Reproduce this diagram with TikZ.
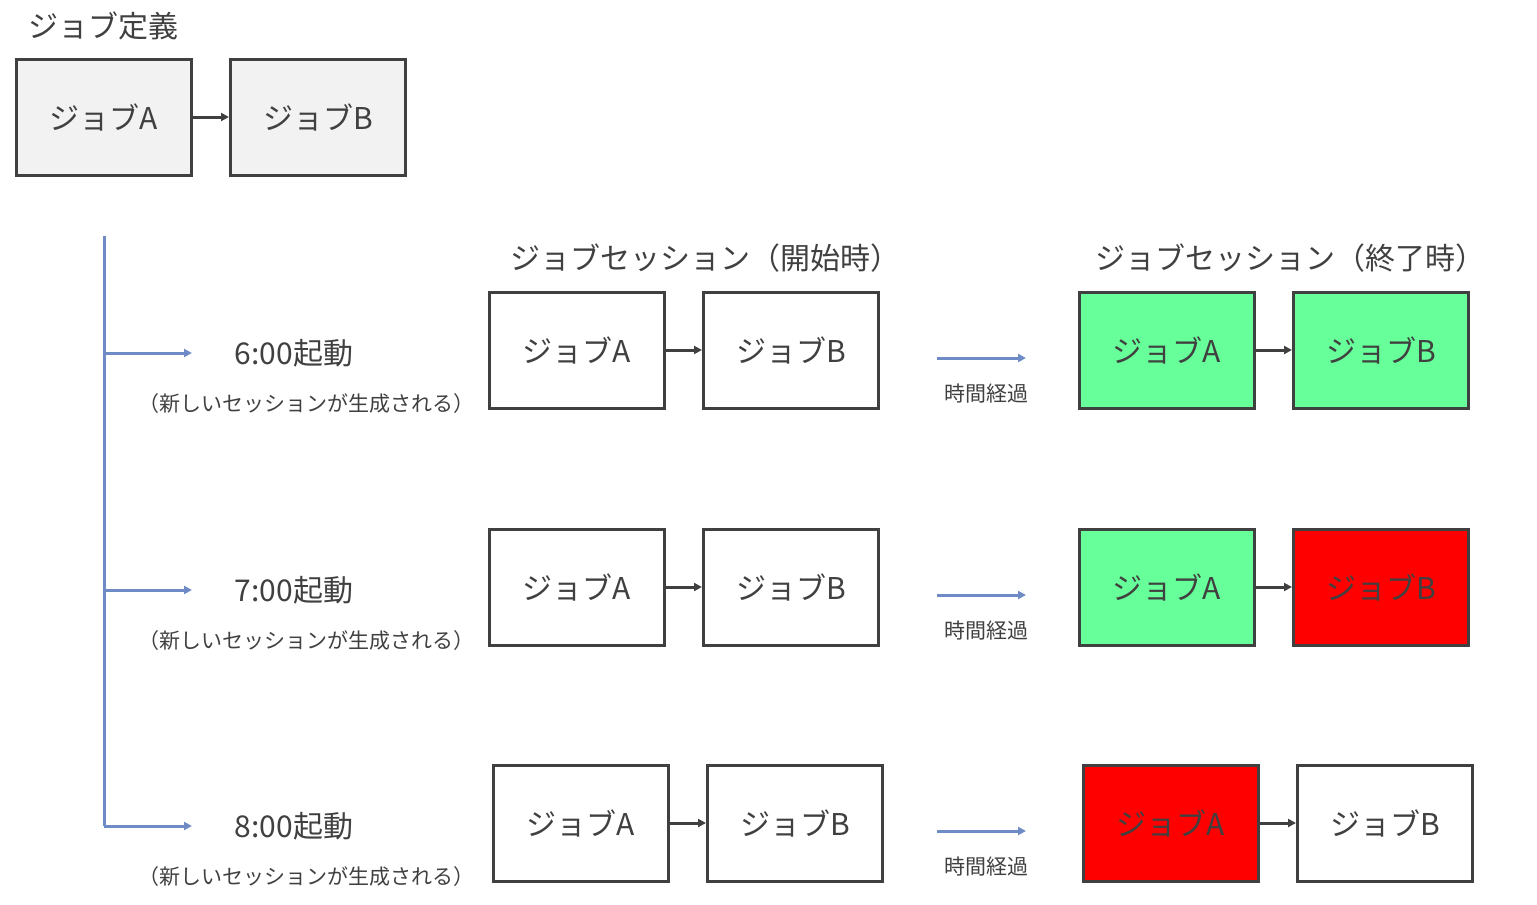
\documentclass[tikz,border=0pt]{standalone}
\usepackage{fontspec}
\setmainfont{Noto Sans CJK JP}
\usetikzlibrary{arrows.meta}
\definecolor{tx}{HTML}{404040}
\definecolor{gr}{HTML}{66FF99}
\definecolor{bl}{HTML}{6F8BC6}
\tikzset{
 jb/.style={draw=tx,line width=3pt,minimum width=175pt,minimum height=116pt,font=\fontsize{30}{32}\selectfont,text=tx,inner sep=0},
 ja/.style={draw=tx,line width=3pt,-{Triangle[length=8pt,width=8pt]}},
 ba/.style={draw=bl,line width=3pt,-{Triangle[length=8pt,width=8pt]}},
 big/.style={font=\fontsize{30}{32}\selectfont,text=tx},
 sm/.style={font=\fontsize{21}{24}\selectfont,text=tx},
}
\begin{document}
\begin{tikzpicture}[x=1pt,y=-1pt]
\useasboundingbox (0,0) rectangle (1537,905);
\node[big] (t0) at (103,26) {ジョブ定義};
\node[jb,fill=black!5] (dA) at (104,117) {ジョブA};
\node[jb,fill=black!5] (dB) at (318,117) {ジョブB};
\draw[ja] (dA) -- (dB);
\node[big] (h1) at (705,258) {ジョブセッション（開始時）};
\node[big] (h2) at (1290,258) {ジョブセッション（終了時）};
\coordinate (v0) at (104,236);
\coordinate (v3) at (104,826);
\draw[bl,line width=3pt] (v0) -- (v3);
\foreach \i/\y/\xo/\t/\ca/\cb in {1/353/0/6/gr/gr,2/590/0/7/gr/red,3/826/4/8/red/white}{
 \coordinate (s\i) at (104,\y);
 \coordinate (e\i) at (192,\y);
 \draw[ba] (s\i) -- (e\i);
 \node[big] (l\i) at (294,\y) {\t:00起動};
 \node[sm] (p\i) at (306,\y+51) {（新しいセッションが生成される）};
 \node[jb,fill=white] (a\i) at (577+\xo,\y-3) {ジョブA};
 \node[jb,fill=white] (b\i) at (791+\xo,\y-3) {ジョブB};
 \draw[ja] (a\i) -- (b\i);
 \coordinate (ts\i) at (937,\y+5);
 \coordinate (te\i) at (1026,\y+5);
 \draw[ba] (ts\i) -- (te\i);
 \node[sm] (k\i) at (986,\y+41) {時間経過};
 \node[jb,fill=\ca] (c\i) at (1167+\xo,\y-3) {ジョブA};
 \node[jb,fill=\cb] (d\i) at (1381+\xo,\y-3) {ジョブB};
 \draw[ja] (c\i) -- (d\i);
}
\end{tikzpicture}
\end{document}
